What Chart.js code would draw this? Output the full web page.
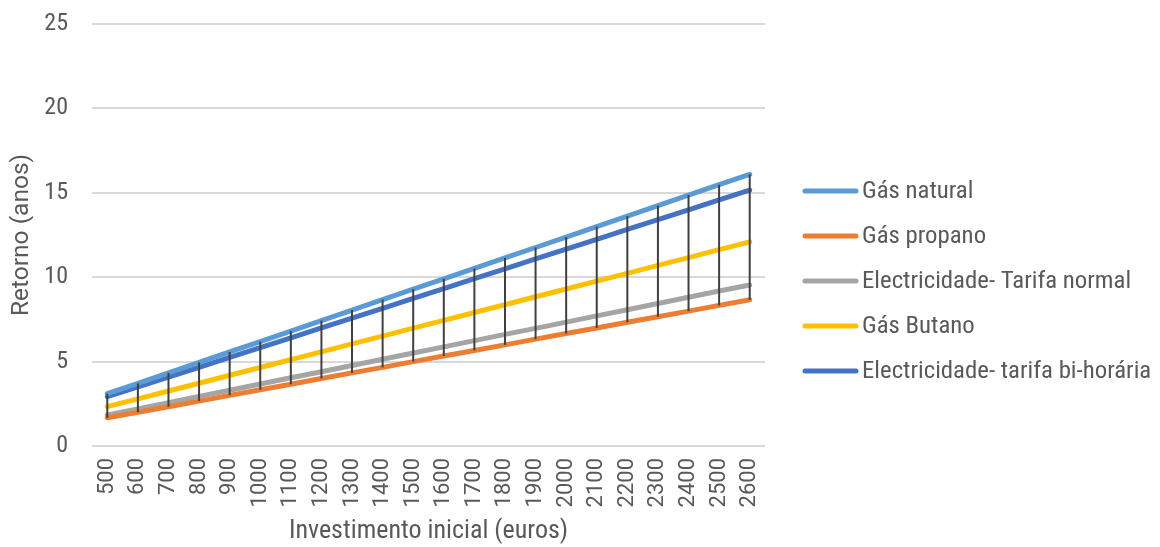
<!DOCTYPE html>
<html>
<head>
<meta charset="utf-8">
<script src="https://cdn.jsdelivr.net/npm/chart.js@4"></script>
<style>
html,body{margin:0;padding:0;background:#fff;}
canvas{display:block;}
</style>
</head>
<body>
<canvas id="c" width="1160" height="547"></canvas>
<script>
const categories = ['500','600','700','800','900','1000','1100','1200','1300','1400','1500','1600','1700','1800','1900','2000','2100','2200','2300','2400','2500','2600'];
const gasNatural = [3.10,3.71,4.33,4.95,5.57,6.19,6.81,7.43,8.05,8.67,9.29,9.90,10.52,11.14,11.76,12.38,13.00,13.62,14.24,14.86,15.48,16.09];
const gasPropano = [1.67,2.00,2.33,2.66,3.00,3.33,3.66,4.00,4.33,4.66,5.00,5.33,5.66,5.99,6.33,6.66,6.99,7.33,7.66,7.99,8.33,8.66];
const eletNormal = [1.84,2.20,2.57,2.94,3.30,3.67,4.04,4.40,4.77,5.14,5.51,5.87,6.24,6.61,6.97,7.34,7.71,8.07,8.44,8.81,9.18,9.54];
const gasButano = [2.33,2.79,3.26,3.72,4.19,4.65,5.12,5.58,6.05,6.51,6.98,7.44,7.91,8.37,8.84,9.30,9.77,10.23,10.70,11.16,11.63,12.09];
const eletBiHoraria = [2.92,3.50,4.08,4.66,5.25,5.83,6.41,7.00,7.58,8.16,8.75,9.33,9.91,10.49,11.08,11.66,12.24,12.83,13.41,13.99,14.58,15.16];
const yTicks = [0,5,10,15,20,25];

const seriesNames = ['Gás natural','Gás propano','Electricidade- Tarifa normal','Gás Butano','Electricidade- tarifa bi-horária'];
const seriesColors = ['#5B9BD5','#ED7D31','#A5A5A5','#FFC000','#4472C4'];
const seriesData = [gasNatural,gasPropano,eletNormal,gasButano,eletBiHoraria];

const txt = '#595959';

const hiLow = {
  id:'hiLow',
  afterDatasetsDraw(chart){
    const {ctx, scales:{x,y}} = chart;
    ctx.save();
    ctx.strokeStyle = '#404040';
    ctx.lineWidth = 2;
    categories.forEach((c,i)=>{
      const vals = chart.data.datasets.map(d=>d.data[i]);
      const hi = Math.max(...vals), lo = Math.min(...vals);
      const px = x.getPixelForValue(i);
      ctx.beginPath();
      ctx.moveTo(px, y.getPixelForValue(hi));
      ctx.lineTo(px, y.getPixelForValue(lo));
      ctx.stroke();
    });
    ctx.restore();
  }
};

const sideLegend = {
  id:'sideLegend',
  afterDraw(chart){
    const {ctx, chartArea} = chart;
    const ds = chart.data.datasets;
    const x0 = chartArea.right + 38, lineLen = 55, gap = 4, rowH = 45;
    const midY = 281;
    const startY = midY - rowH*(ds.length-1)/2;
    ctx.save();
    ctx.font = '24.8px "Roboto Condensed", Roboto, sans-serif';
    ctx.textBaseline = 'middle';
    ds.forEach((d,i)=>{
      const yy = startY + i*rowH;
      ctx.strokeStyle = d.borderColor;
      ctx.lineWidth = 5;
      ctx.lineCap = 'round';
      ctx.beginPath();
      ctx.moveTo(x0+2, yy);
      ctx.lineTo(x0+lineLen-2, yy);
      ctx.stroke();
      ctx.fillStyle = txt;
      ctx.fillText(d.label, x0+lineLen+gap, yy+1);
    });
    ctx.restore();
  }
};

new Chart(document.getElementById('c'), {
  type:'line',
  data:{
    labels:categories,
    datasets: seriesNames.map((n,i)=>({
      label:n,
      data:seriesData[i],
      borderColor:seriesColors[i],
      backgroundColor:seriesColors[i],
      borderWidth:5,
      borderCapStyle:'round',
      pointRadius:0,
      tension:0,
      fill:false
    }))
  },
  options:{
    responsive:false,
    animation:false,
    layout:{padding:{left:7,right:395,top:24,bottom:0}},
    plugins:{
      legend:{display:false},
      tooltip:{enabled:false}
    },
    scales:{
      x:{
        offset:true,
        afterFit(s){ s.paddingLeft = 0; s.paddingRight = 0; s.height = 101; },
        grid:{display:false, drawTicks:false},
        border:{display:false},
        ticks:{color:txt, font:{family:'Roboto', size:22}, minRotation:90, maxRotation:90, autoSkip:false, padding:12},
        title:{display:true, text:'Investimento inicial (euros)', color:txt, font:{family:'"Roboto Condensed", Roboto', size:26}, padding:{top:0,bottom:0}}
      },
      y:{
        min:0, max:25,
        afterFit(s){ s.paddingTop = 0; s.paddingBottom = 0; s.width = 85; },
        afterBuildTicks(s){ s.ticks = yTicks.map(v=>({value:v})); },
        grid:{color:'#d9d9d9', lineWidth:2, drawTicks:false},
        border:{display:false},
        ticks:{color:txt, font:{family:'"Roboto Condensed", Roboto', size:24}, padding:24},
        title:{display:true, text:'Retorno (anos)', color:txt, font:{family:'Roboto', size:24.5}, padding:{top:0,bottom:8}}
      }
    }
  },
  plugins:[hiLow, sideLegend]
});
</script>
</body>
</html>
